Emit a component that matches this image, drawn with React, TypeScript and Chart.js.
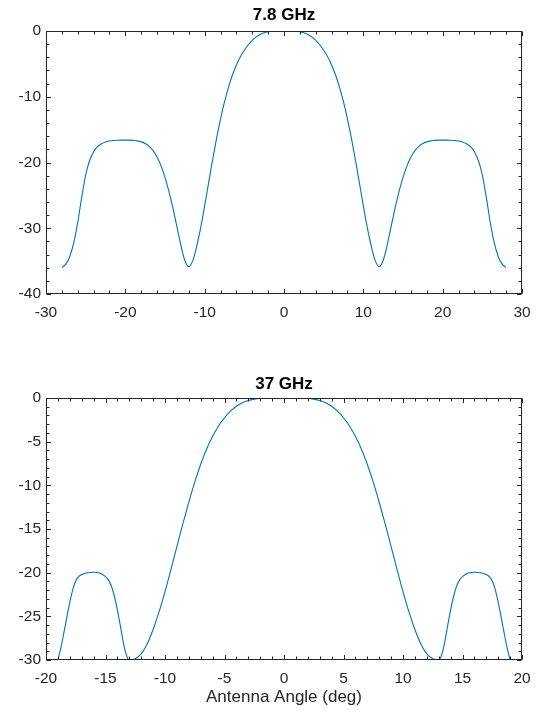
import React, { useEffect, useRef } from "react";
import { Chart, registerables } from "chart.js";

Chart.register(...registerables);

// ---- data ----
const topTitle = "7.8 GHz";
const topAngles = [
  -28, -27.5, -27, -26.5, -26, -25.5, -25, -24.5, -24, -23.5, -23, -22.5, -22, -21.5, -21, -20.5, -20, -19.5, -19, -18.5, -18, -17.5, -17, -16.5, -16, -15.5, -15, -14.5, -14, -13.5, -13, -12.5, -12,
  -11.5, -11, -10.5, -10, -9.5, -9, -8.5, -8, -7.5, -7, -6.5, -6, -5.5, -5, -4.5, -4, -3.5, -3, -2.5, -2, -1.5, -1, -0.5, 0,
  0.5, 1, 1.5, 2, 2.5, 3, 3.5, 4, 4.5, 5, 5.5, 6, 6.5, 7, 7.5, 8, 8.5, 9, 9.5, 10, 10.5, 11, 11.5,
  12, 12.5, 13, 13.5, 14, 14.5, 15, 15.5, 16, 16.5, 17, 17.5, 18, 18.5, 19, 19.5, 20, 20.5, 21, 21.5, 22, 22.5, 23, 23.5, 24, 24.5, 25, 25.5, 26, 26.5, 27, 27.5, 28,
];
const topGain = [
  -35.95, -35.45, -34.3, -32.2, -29.1, -25.3, -21.9, -19.7, -18.35, -17.6, -17.15, -16.88, -16.73, -16.65, -16.61, -16.59, -16.59, -16.6, -16.64, -16.71, -16.86, -17.11, -17.54, -18.2, -19.17, -20.52, -22.27, -24.42, -26.95, -29.77, -32.6, -34.9, -35.85,
  -34.93, -32.74, -29.92, -26.59, -23.07, -19.59, -16.34, -13.39, -10.79, -8.57, -6.69, -5.16, -3.92, -2.92, -2.09, -1.42, -0.89, -0.52, -0.27, -0.12, -0.04, -0.01, 0, 0,
  0, -0.01, -0.04, -0.12, -0.27, -0.52, -0.89, -1.42, -2.09, -2.92, -3.92, -5.16, -6.69, -8.57, -10.79, -13.39, -16.34, -19.59, -23.07, -26.59, -29.92, -32.74, -34.93,
  -35.85, -34.9, -32.6, -29.77, -26.95, -24.42, -22.27, -20.52, -19.17, -18.2, -17.54, -17.11, -16.86, -16.71, -16.64, -16.6, -16.59, -16.59, -16.61, -16.65, -16.73, -16.88, -17.15, -17.6, -18.35, -19.7, -21.9, -25.3, -29.1, -32.2, -34.3, -35.45, -35.95,
];
const topXRange = [-30, 30];
const topYRange = [-40, 0];
const topXStep = 10;
const topYStep = 10;

const bottomTitle = "37 GHz";
const bottomAngles = [
  -19, -18.75, -18.5, -18.25, -18, -17.75, -17.5, -17.25, -17, -16.5, -16, -15.5, -15, -14.75, -14.5, -14.25, -14, -13.75, -13.5, -13.25, -13,
  -12.5, -12, -11.5, -11, -10.5, -10, -9.5, -9, -8.5, -8, -7.5, -7, -6.5, -6, -5.5, -5, -4.5, -4, -3.5, -3, -2.5, -2, -1.5, -1, -0.5, 0,
  0.5, 1, 1.5, 2, 2.5, 3, 3.5, 4, 4.5, 5, 5.5, 6, 6.5, 7, 7.5, 8, 8.5, 9, 9.5, 10, 10.5, 11, 11.5, 12, 12.5,
  13, 13.25, 13.5, 13.75, 14, 14.25, 14.5, 14.75, 15, 15.5, 16, 16.5, 17, 17.25, 17.5, 17.75, 18, 18.25, 18.5, 18.75, 19,
];
const bottomGain = [
  -30, -28.6, -26.9, -25.1, -23.4, -21.95, -20.95, -20.45, -20.2, -20.0, -19.95, -20.05, -20.45, -20.85, -21.55, -22.7, -24.3, -26.1, -28.0, -29.4, -30,
  -29.85, -29.3, -28.16, -26.51, -24.49, -22.16, -19.64, -17.01, -14.41, -11.94, -9.64, -7.59, -5.84, -4.39, -3.21, -2.26, -1.51, -0.95, -0.55, -0.285, -0.13, -0.05, -0.015, 0, 0, 0,
  0, 0, -0.015, -0.05, -0.13, -0.285, -0.55, -0.95, -1.51, -2.26, -3.21, -4.39, -5.84, -7.59, -9.64, -11.94, -14.41, -17.01, -19.64, -22.16, -24.49, -26.51, -28.16, -29.3, -29.85,
  -30, -29.4, -28.0, -26.1, -24.3, -22.7, -21.55, -20.85, -20.45, -20.05, -19.95, -20.0, -20.2, -20.45, -20.95, -21.95, -23.4, -25.1, -26.9, -28.6, -30,
];
const bottomXRange = [-20, 20];
const bottomYRange = [-30, 0];
const bottomXStep = 5;
const bottomYStep = 5;
const xAxisLabel = "Antenna Angle (deg)";

// ---- styles ----
const FONT = "'Liberation Sans', Arial, Helvetica, sans-serif";
const AXIS = "#262626";
const LINE = "#0072BD";

const framePlugin = {
  id: "frame",
  afterDraw(chart: any, _args: any, opts: any) {
    const { ctx, chartArea: a, scales } = chart;
    const xs = scales.x;
    const ys = scales.y;
    ctx.save();
    ctx.strokeStyle = AXIS;
    ctx.lineWidth = 1;
    const L = Math.round(a.left) + 0.5;
    const R = Math.round(a.right) - 0.5;
    const T = Math.round(a.top) + 0.5;
    const B = Math.round(a.bottom) - 0.5;
    ctx.beginPath();
    const minor = opts.minorCount || 5;
    const majorLen = 4.5;
    const minorLen = 3;
    const xt = xs.ticks.map((t: any) => t.value);
    const yt = ys.ticks.map((t: any) => t.value);
    const xTick = (v: number, len: number) => {
      const p = Math.round(xs.getPixelForValue(v)) + 0.5;
      ctx.moveTo(p, B);
      ctx.lineTo(p, B - len);
      ctx.moveTo(p, T);
      ctx.lineTo(p, T + len);
    };
    const yTick = (v: number, len: number) => {
      const p = Math.round(ys.getPixelForValue(v)) + 0.5;
      ctx.moveTo(L, p);
      ctx.lineTo(L + len, p);
      ctx.moveTo(R, p);
      ctx.lineTo(R - len, p);
    };
    for (let i = 0; i < xt.length; i++) {
      xTick(xt[i], majorLen);
      if (i < xt.length - 1) {
        const s = (xt[i + 1] - xt[i]) / minor;
        for (let k = 1; k < minor; k++) xTick(xt[i] + k * s, minorLen);
      }
    }
    for (let i = 0; i < yt.length; i++) {
      yTick(yt[i], majorLen);
      if (i < yt.length - 1) {
        const s = (yt[i + 1] - yt[i]) / minor;
        for (let k = 1; k < minor; k++) yTick(yt[i] + k * s, minorLen);
      }
    }
    ctx.stroke();
    ctx.strokeRect(L, T, R - L, B - T);

    ctx.fillStyle = "#000000";
    ctx.textAlign = "center";
    ctx.textBaseline = "middle";
    if (opts.title) {
      ctx.font = `bold 17px ${FONT}`;
      ctx.fillText(opts.title, (a.left + a.right) / 2, opts.titleY);
    }
    if (opts.xLabel) {
      ctx.fillStyle = AXIS;
      ctx.font = `17px ${FONT}`;
      ctx.fillText(opts.xLabel, (a.left + a.right) / 2, opts.xLabelY);
    }
    ctx.restore();
  },
};

function makeConfig(
  xsArr: number[],
  ysArr: number[],
  xr: number[],
  yr: number[],
  xStep: number,
  yStep: number,
  height: number,
  areaTop: number,
  areaBottom: number,
  frameOpts: any
): any {
  const pts = xsArr.map((x, i) => ({ x, y: ysArr[i] }));
  const tickFont = { family: FONT, size: 15.5 };
  return {
    type: "scatter",
    data: {
      datasets: [
        {
          data: pts,
          showLine: true,
          borderColor: LINE,
          borderWidth: 1.1,
          pointRadius: 0,
          cubicInterpolationMode: "monotone",
          fill: false,
        },
      ],
    },
    options: {
      responsive: false,
      animation: false,
      devicePixelRatio: 1,
      layout: { padding: { top: areaTop, right: 19, left: 0, bottom: 0 } },
      plugins: {
        legend: { display: false },
        tooltip: { enabled: false },
        title: { display: false },
        frame: frameOpts,
      },
      scales: {
        x: {
          type: "linear",
          min: xr[0],
          max: xr[1],
          grid: { display: false, drawTicks: false },
          border: { display: false },
          ticks: { stepSize: xStep, color: AXIS, font: tickFont, padding: 9, maxRotation: 0 },
          afterFit: (s: any) => {
            s.height = height - areaBottom;
          },
        },
        y: {
          type: "linear",
          min: yr[0],
          max: yr[1],
          grid: { display: false, drawTicks: false },
          border: { display: false },
          ticks: { stepSize: yStep, color: AXIS, font: tickFont, padding: 5 },
          afterFit: (s: any) => {
            s.width = 46;
          },
        },
      },
    },
    plugins: [framePlugin],
  };
}

const W = 541;
const H1 = 340;
const H2 = 374;

export default function App() {
  const c1 = useRef<HTMLCanvasElement>(null);
  const c2 = useRef<HTMLCanvasElement>(null);

  useEffect(() => {
    const ch1 = new Chart(
      c1.current as HTMLCanvasElement,
      makeConfig(topAngles, topGain, topXRange, topYRange, topXStep, topYStep, H1, 31, 294, {
        title: topTitle,
        titleY: 15.5,
        minorCount: 5,
      })
    );
    const ch2 = new Chart(
      c2.current as HTMLCanvasElement,
      makeConfig(bottomAngles, bottomGain, bottomXRange, bottomYRange, bottomXStep, bottomYStep, H2, 58, 320, {
        title: bottomTitle,
        titleY: 44,
        minorCount: 5,
        xLabel: xAxisLabel,
        xLabelY: 357,
      })
    );
    return () => {
      ch1.destroy();
      ch2.destroy();
    };
  }, []);

  return (
    <div style={{ position: "absolute", left: 0, top: 0, width: W, height: H1 + H2, background: "#fff" }}>
      <canvas ref={c1} width={W} height={H1} style={{ position: "absolute", left: 0, top: 0, width: W, height: H1 }} />
      <canvas ref={c2} width={W} height={H2} style={{ position: "absolute", left: 0, top: H1, width: W, height: H2 }} />
    </div>
  );
}
